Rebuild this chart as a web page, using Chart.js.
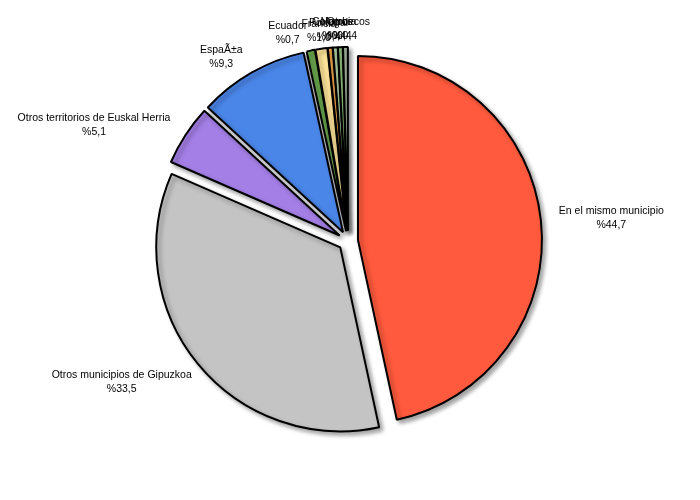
<!DOCTYPE html>
<html>
<head>
<meta charset="utf-8">
<script src="https://cdn.jsdelivr.net/npm/chart.js@4"></script>
<style>
  html, body { margin: 0; padding: 0; background: #fff; }
  #wrap { width: 700px; height: 500px; }
</style>
</head>
<body>
<div id="wrap"><canvas id="chart" width="700" height="500"></canvas></div>
<script>
// ============================
// DATA
// ============================
const categories = [
  "En el mismo municipio",
  "Otros municipios de Gipuzkoa",
  "Otros territorios de Euskal Herria",
  "EspaÃ±a",
  "Ecuador",
  "Francia",
  "Portugal",
  "Colombia",
  "Otros",
  "Marruecos"
];
const values = [44.7, 33.5, 5.1, 9.3, 0.7, 1.0, 0.4, 0.4, 0.4, 0.4];
const colors = [
  "#ff5a3d", "#c4c4c4", "#a47fe6", "#4a86e8", "#6aa84f",
  "#ffe599", "#f6a94a", "#b6d7a8", "#93c47d", "#a8b8a0"
];

const EXPLODE = 10; // px each slice is pulled out

// ============================
// PLUGINS
// ============================
// explode every slice by the same distance + drop shadow
const explodePlugin = {
  id: "explode",
  beforeDatasetDraw(chart) {
    const ctx = chart.ctx;
    chart.getDatasetMeta(0).data.forEach(arc => {
      const mid = (arc.startAngle + arc.endAngle) / 2;
      arc._cx = arc.x; arc._cy = arc.y;
      arc.x += Math.cos(mid) * EXPLODE;
      arc.y += Math.sin(mid) * EXPLODE;
    });
    ctx.save();
    ctx.shadowColor = "rgba(0,0,0,0.35)";
    ctx.shadowBlur = 4;
    ctx.shadowOffsetX = 3;
    ctx.shadowOffsetY = 3;
  },
  afterDatasetDraw(chart) {
    chart.ctx.restore();
    chart.getDatasetMeta(0).data.forEach(arc => {
      arc.x = arc._cx; arc.y = arc._cy;
    });
  }
};

// outside labels: name + "%value"
const labelPlugin = {
  id: "outLabels",
  afterDraw(chart) {
    const ctx = chart.ctx;
    const arcs = chart.getDatasetMeta(0).data;
    ctx.save();
    ctx.font = "10.5px 'Liberation Sans', Arial, sans-serif";
    ctx.fillStyle = "#000";
    ctx.textBaseline = "middle";
    arcs.forEach((arc, i) => {
      const mid = (arc.startAngle + arc.endAngle) / 2;
      const dx = Math.cos(mid), dy = Math.sin(mid);
      const below = dy > 0.2;
      const dist = arc.outerRadius + (below ? 18 : 28);
      const ax = arc.x + dx * dist;
      let ay = arc.y + dy * dist;
      if (below) ay += 13; // top of the text box sits on the anchor
      const l1 = categories[i];
      const l2 = "%" + values[i].toFixed(1).replace(".", ",");
      const w = Math.max(ctx.measureText(l1).width, ctx.measureText(l2).width);
      let cx;
      if (Math.abs(dx) < 0.15) cx = ax;
      else if (dx > 0) cx = ax + w / 2;
      else cx = ax - w / 2;
      ctx.textAlign = "center";
      ctx.fillText(l1, cx, ay - 7);
      ctx.fillText(l2, cx, ay + 7);
    });
    ctx.restore();
  }
};

// ============================
// CHART
// ============================
new Chart(document.getElementById("chart").getContext("2d"), {
  type: "pie",
  data: {
    labels: categories,
    datasets: [{
      data: values,
      backgroundColor: colors,
      borderColor: "#000",
      borderWidth: 2,
      radius: 184
    }]
  },
  options: {
    responsive: false,
    animation: false,
    layout: { padding: { top: 0, bottom: 18, left: 0, right: 4 } },
    plugins: {
      legend: { display: false },
      tooltip: { enabled: false }
    }
  },
  plugins: [explodePlugin, labelPlugin]
});
</script>
</body>
</html>
